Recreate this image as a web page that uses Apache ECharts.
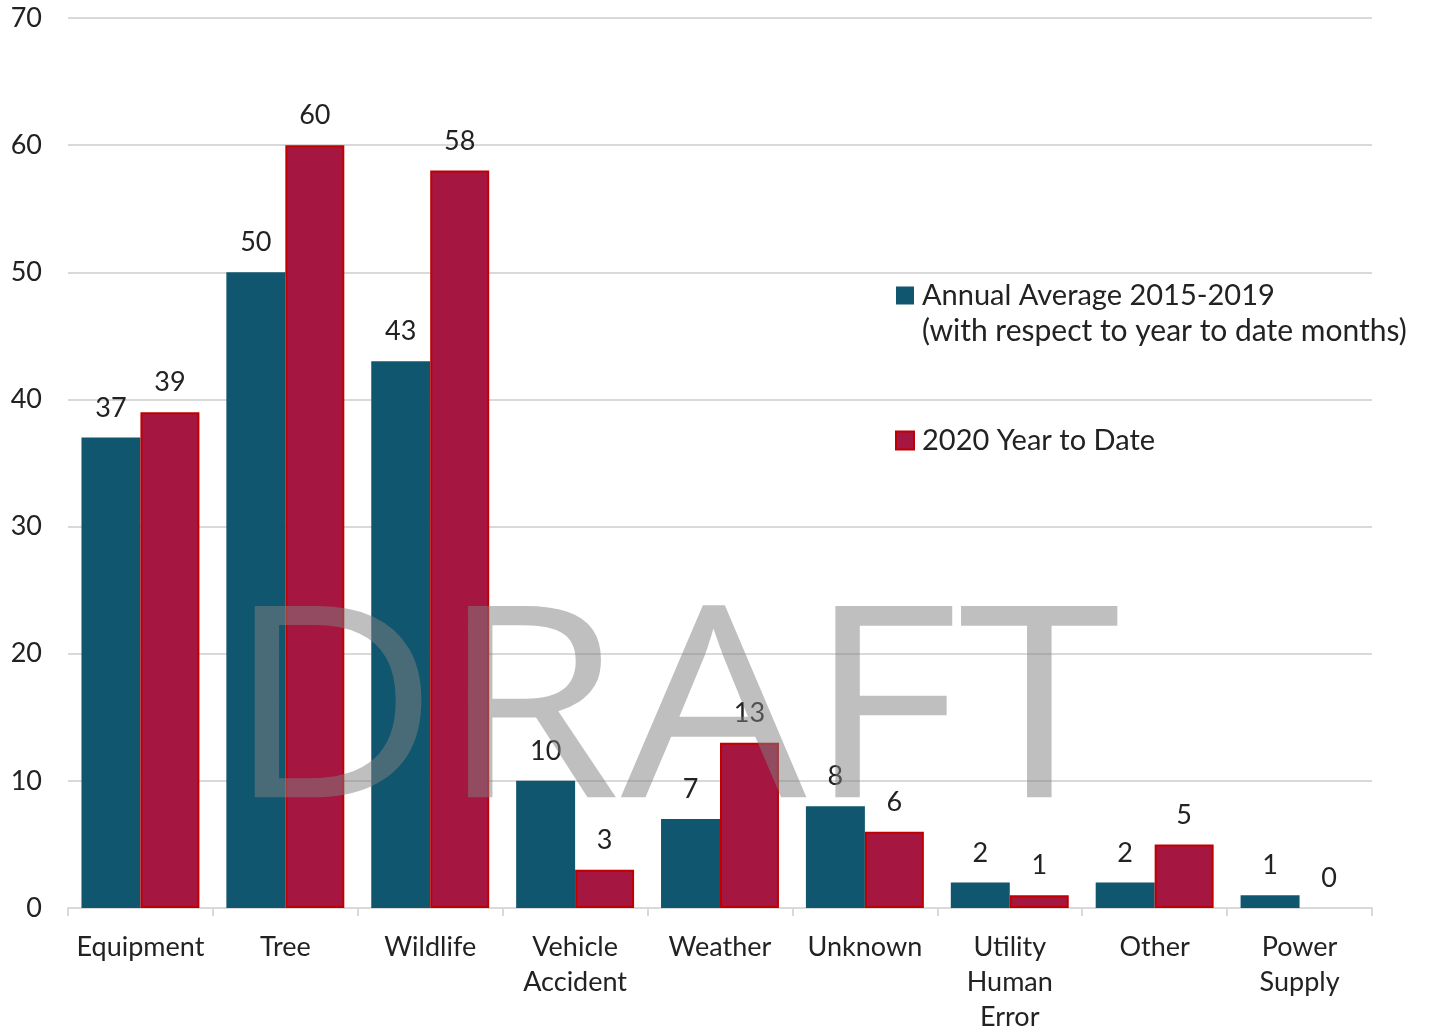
<!DOCTYPE html>
<html><head><meta charset="utf-8">
<script src="https://cdn.jsdelivr.net/npm/echarts@6/dist/echarts.min.js"></script>
<style>html,body{margin:0;padding:0;background:#fff}#c{width:1432px;height:1029px}</style>
</head><body><div id="c"></div>
<script>
const categories = ['Equipment','Tree','Wildlife','Vehicle\nAccident','Weather','Unknown','Utility\nHuman\nError','Other','Power\nSupply'];
const annualAverage = [37,50,43,10,7,8,2,2,1];
const ytd2020 = [39,60,58,3,13,6,1,5,0];
const yTicks = {min:0,max:70,interval:10};
const seriesNames = ['Annual Average 2015-2019','2020 Year to Date'];
const legendSubLine = '(with respect to year to date months)';

const FONT = 'Lato, "Open Sans", sans-serif';
const chart = echarts.init(document.getElementById('c'), null, {renderer:'canvas'});
chart.setOption({
  animation:false,
  backgroundColor:'#fff',
  grid:{left:68,right:60,top:18,bottom:121,containLabel:false,outerBoundsMode:'none'},
  legend:{
    orient:'vertical', left:895, top:281, padding:0, itemWidth:18, itemHeight:18, itemGap:116,
    icon:'rect',
    textStyle:{fontFamily:FONT,fontSize:29,color:'#222',padding:[0,0,0,3]},
    data:seriesNames
  },
  xAxis:{
    type:'category', data:categories,
    axisLine:{lineStyle:{color:'#d9d9d9',width:2}},
    axisTick:{show:true,length:8,interval:0,lineStyle:{color:'#d9d9d9',width:2}},
    axisLabel:{interval:0,fontFamily:FONT,fontSize:27,color:'#222',lineHeight:35,margin:22}
  },
  yAxis:{
    type:'value', min:yTicks.min, max:yTicks.max, interval:yTicks.interval,
    axisLine:{show:false}, axisTick:{show:false},
    splitLine:{lineStyle:{color:'#d9d9d9',width:2}},
    axisLabel:{fontFamily:FONT,fontSize:27,color:'#222',margin:26}
  },
  series:[
    {name:seriesNames[0],type:'bar',data:annualAverage,barGap:'0%',barCategoryGap:'18.6%',
     itemStyle:{color:'#10566f'},
     label:{show:true,position:'top',distance:16,fontFamily:FONT,fontSize:27,color:'#222'}},
    {name:seriesNames[1],type:'bar',
     data:ytd2020.map(v => v === 0 ? {value:v,itemStyle:{borderWidth:0}} : v),
     barGap:'0%',barCategoryGap:'18.6%',
     itemStyle:{color:'#a51640',borderColor:'#c00000',borderWidth:2},
     label:{show:true,position:'top',distance:16,fontFamily:FONT,fontSize:27,color:'#222'}}
  ],
  graphic:[
    {type:'text',left:922,top:316,z:10,style:{text:legendSubLine,font:'30px '+FONT,fill:'#222'}},
    {type:'text',x:226,y:587,scaleX:1.097,z:100,silent:true,
     style:{text:'DRAFT',font:'normal 268px "Open Sans", sans-serif',fill:'rgba(128,128,128,0.5)',textVerticalAlign:'top'}}
  ]
});
</script></body></html>
